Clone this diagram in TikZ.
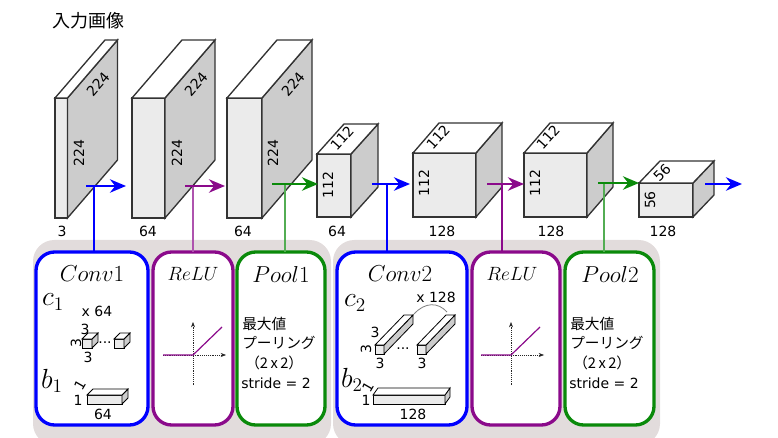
\documentclass[tikz,border=0pt]{standalone}
\usepackage{fontspec}
\setmainfont{DejaVu Sans}
\newfontfamily\cjk{Noto Sans CJK JP}
\usetikzlibrary{arrows.meta}
\definecolor{frontc}{HTML}{EBEBEB}
\definecolor{sidec}{HTML}{CCCCCC}
\definecolor{panelc}{HTML}{E2DCDC}
\definecolor{edgec}{HTML}{333333}
\definecolor{vio}{HTML}{8B0A8B}
\definecolor{grn}{HTML}{0A8A0A}
\newcommand\mycube[6]{%
  \filldraw[draw=edgec,line width=1pt,fill=frontc] (#1,#2) rectangle ++(#3,#4);
  \filldraw[draw=edgec,line width=1pt,fill=sidec] (#1+#3,#2) -- ++(#5,#6) -- ++(0,#4) -- ++(-#5,-#6) -- cycle;
  \filldraw[draw=edgec,line width=1pt,fill=white] (#1,#2) -- ++(#5,#6) -- ++(#3,0) -- ++(-#5,-#6) -- cycle;
}
\newcommand\smcube[6]{%
  \filldraw[draw=black,line width=0.6pt,fill=frontc] (#1,#2) rectangle ++(#3,#4);
  \filldraw[draw=black,line width=0.6pt,fill=sidec] (#1+#3,#2) -- ++(#5,#6) -- ++(0,#4) -- ++(-#5,-#6) -- cycle;
  \filldraw[draw=black,line width=0.6pt,fill=white] (#1,#2) -- ++(#5,#6) -- ++(#3,0) -- ++(-#5,-#6) -- cycle;
}
\tikzset{
  num/.style={font=\fontsize{10.5}{11}\selectfont,inner sep=0pt},
  arr/.style={line width=2pt,-{Stealth[length=12pt,width=10pt]}},
  link/.style={line width=0.8pt},
  panel/.style={line width=2.5pt,rounded corners=14pt,fill=white},
  ttl/.style={font=\fontsize{19}{20}\selectfont,inner sep=0pt},
  rl/.style={font=\fontsize{15}{16}\selectfont,inner sep=0pt},
  mv/.style={font=\fontsize{22}{22}\selectfont,inner sep=0pt},
  jp/.style={font=\cjk\fontsize{11}{12}\selectfont,inner sep=0pt,anchor=west},
}
\begin{document}
\begin{tikzpicture}[x=0.75pt,y=-0.75pt]
\useasboundingbox (0,0) rectangle (778,438);
% panels background
\fill[panelc,rounded corners=16pt] (33,240) rectangle (331,445);
\fill[panelc,rounded corners=16pt] (333,240) rectangle (660,445);
% title
\node[font=\cjk\fontsize{13.5}{14}\selectfont,inner sep=0pt] (title) at (88,21) {入力画像};
% cuboids
\mycube{55}{98}{12.5}{120}{50}{-58}
\mycube{132}{98}{33}{120}{50}{-58}
\mycube{227}{98}{35}{120}{50}{-58}
\mycube{317}{154}{34}{63}{27}{-30}
\mycube{413}{153}{63}{64}{26}{-30}
\mycube{524}{153}{63}{64}{26}{-30}
\mycube{639}{183}{54}{34}{21}{-22}
% dimension labels
\node[num,rotate=90] at (79,153) {224};
\node[num,rotate=49] at (98,84) {224};
\node[num,rotate=90] at (177,153) {224};
\node[num,rotate=49] at (196,84) {224};
\node[num,rotate=90] at (273,153) {224};
\node[num,rotate=49] at (293,84) {224};
\node[num,rotate=90] at (328,185) {112};
\node[num,rotate=48] at (342,138) {112};
\node[num,rotate=90] at (424,183) {112};
\node[num,rotate=48] at (438,137) {112};
\node[num,rotate=90] at (535,183) {112};
\node[num,rotate=48] at (548,137) {112};
\node[num,rotate=90] at (650,200) {56};
\node[num,rotate=45] at (662,173) {56};
\node[num] at (62,231) {3};
\node[num] at (148,231) {64};
\node[num] at (243,231) {64};
\node[num] at (337,231) {64};
\node[num] at (442,231) {128};
\node[num] at (551,231) {128};
\node[num] at (663,231) {128};
% arrows
\coordinate (a1s) at (86,186); \coordinate (a1e) at (126,186);
\coordinate (a2s) at (185,186); \coordinate (a2e) at (225,186);
\coordinate (a3s) at (272,184); \coordinate (a3e) at (318,184);
\coordinate (a4s) at (372,184); \coordinate (a4e) at (410,184);
\coordinate (a5s) at (487,184); \coordinate (a5e) at (524,184);
\coordinate (a6s) at (598,183); \coordinate (a6e) at (639,183);
\coordinate (a7s) at (705,184); \coordinate (a7e) at (742,184);
% panels
\draw[panel,draw=blue] (36,252) rectangle (148,425);
\draw[panel,draw=vio] (153,252) rectangle (233,425);
\draw[panel,draw=grn] (237,252) rectangle (325,425);
\draw[panel,draw=blue] (337,252) rectangle (467,425);
\draw[panel,draw=vio] (472,252) rectangle (560,425);
\draw[panel,draw=grn] (565,252) rectangle (654,425);
% link lines
\draw[link,blue] (94,186) -- (94,252);
\draw[link,vio!70] (193,186) -- (193,252);
\draw[link,grn!70] (285,184) -- (285,252);
\draw[link,blue] (387,184) -- (387,252);
\draw[link,vio] (502,184) -- (502,252);
\draw[link,grn!70] (604,183) -- (604,252);
\draw[arr,blue] (a1s) -- (a1e);
\draw[arr,vio] (a2s) -- (a2e);
\draw[arr,grn] (a3s) -- (a3e);
\draw[arr,blue] (a4s) -- (a4e);
\draw[arr,vio] (a5s) -- (a5e);
\draw[arr,grn] (a6s) -- (a6e);
\draw[arr,blue] (a7s) -- (a7e);
% titles
\node[ttl] at (92,274) {$Conv1$};
\node[rl] at (193,274) {$ReLU$};
\node[ttl] at (281,274) {$Pool1$};
\node[ttl] at (400,274) {$Conv2$};
\node[rl] at (512,274) {$ReLU$};
\node[ttl] at (610,274) {$Pool2$};
% conv1 content
\node[mv] at (53,302) {$c_1$};
\node[num] at (97,311) {x 64};
\smcube{82}{339}{10}{9}{6}{-6}
\smcube{114}{339}{10}{9}{6}{-6}
\node[num] at (105,343) {...};
\node[num] at (85,329) {3};
\node[num,rotate=90] at (76,343) {3};
\node[num] at (88,357) {3};
\node[mv] at (52,381) {$b_1$};
\smcube{87}{395}{35}{9}{6}{-6}
\node[num,rotate=60] at (80,385) {1};
\node[num] at (78,400) {1};
\node[num] at (103,414) {64};
% conv2 content
\node[mv] at (355,303) {$c_2$};
\node[num] at (436,297) {x 128};
\draw[gray,line width=0.6pt] (414,314) .. controls (425,302) and (438,302) .. (447,312);
\smcube{375}{345}{9}{9}{29}{-30}
\smcube{417}{345}{9}{9}{29}{-30}
\node[num] at (403,349) {...};
\node[num] at (375,332) {3};
\node[num,rotate=90] at (366,349) {3};
\node[num] at (380,363) {3};
\node[num] at (422,363) {3};
\node[mv] at (352,380) {$b_2$};
\smcube{373}{395}{72}{9}{5}{-7}
\node[num,rotate=60] at (368,387) {1};
\node[num] at (366,400) {1};
\node[num] at (413,414) {128};
% relu graphs
\foreach \cx/\col in {193/vio,511/vio}{
  \draw[densely dotted,gray!30!black,-{Stealth[length=4pt]}] (\cx-30,355) -- (\cx+33,355);
  \draw[densely dotted,gray!30!black,-{Stealth[length=4pt]}] (\cx,385) -- (\cx,322);
  \draw[\col,line width=0.9pt] (\cx-30,355) -- (\cx,355) -- (\cx+29,327);
}
% pool text
\foreach \px in {242,570}{
  \node[jp] at (\px,324) {最大値};
  \node[jp] at (\px,343) {プーリング};
  \node[jp] at (\px+3,363) {（2\,x\,2）};
  \node[num,anchor=west] at (\px-1,383) {stride = 2};
}
\end{tikzpicture}
\end{document}
